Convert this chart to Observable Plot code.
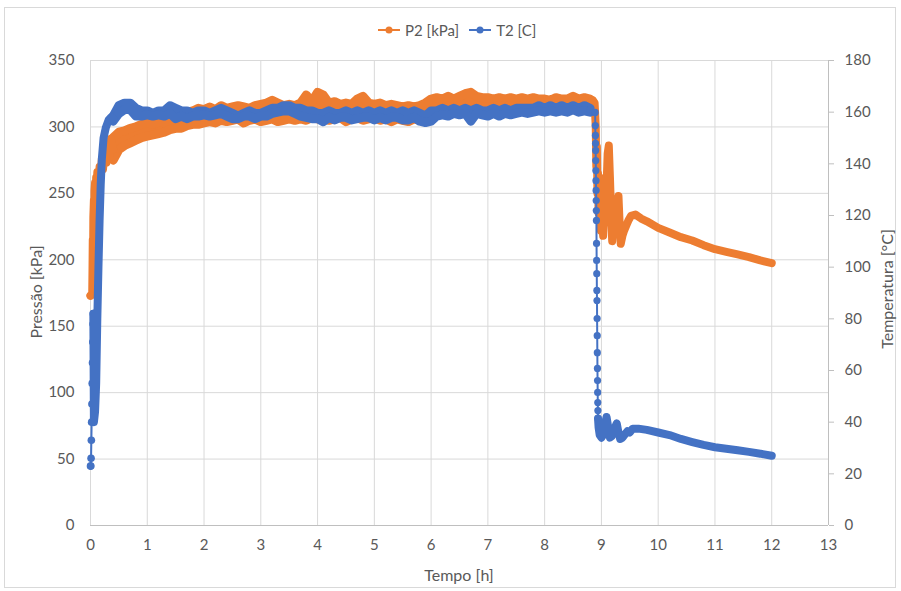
<!DOCTYPE html>
<html><head><meta charset="utf-8">
<script src="https://cdn.jsdelivr.net/npm/d3@7"></script>
<script src="https://cdn.jsdelivr.net/npm/@observablehq/plot@0.6"></script>
<style>
body{margin:0;background:#fff;font-family:Lato,"Open Sans",sans-serif;}
#wrap{position:relative;width:901px;height:591px;overflow:hidden;background:#fff;}
#frame{position:absolute;left:4px;top:7px;width:892px;height:581px;border:1px solid #d9d9d9;box-sizing:border-box;}
#legend{position:absolute;top:21px;left:378px;height:18px;display:flex;align-items:center;font-size:15px;color:#595959;}
.item{display:flex;align-items:center;margin-right:10px;}
.item svg{margin-right:5px;}
#chart{position:absolute;left:0;top:45px;}
.title{position:absolute;font-size:16px;color:#595959;white-space:nowrap;transform:translate(-50%,-50%);}
.rot{transform:translate(-50%,-50%) rotate(-90deg);}
</style></head>
<body>
<div id="wrap">
  <div id="frame"></div>
  <div id="legend">
    <div class="item"><svg width="22" height="10"><line x1="0" y1="5" x2="22" y2="5" stroke="#ED7D31" stroke-width="2"/><circle cx="11" cy="5" r="3.5" fill="#ED7D31"/></svg><span>P2 [kPa]</span></div>
    <div class="item"><svg width="22" height="10"><line x1="0" y1="5" x2="22" y2="5" stroke="#4472C4" stroke-width="2"/><circle cx="11" cy="5" r="3.5" fill="#4472C4"/></svg><span>T2 [C]</span></div>
  </div>
  <div id="chart"></div>
  <div class="title rot" style="left:35px;top:292px;">Pressão [kPa]</div>
  <div class="title rot" style="left:886px;top:289px;">Temperatura [°C]</div>
  <div class="title" style="left:459px;top:574px;">Tempo [h]</div>
</div>
<script>
// ---- axis ticks ----
const hourTicks = [0,1,2,3,4,5,6,7,8,9,10,11,12,13];
const pressureTicks = [0,50,100,150,200,250,300,350];
const tempTicks = [0,20,40,60,80,100,120,140,160,180];

// ---- noisy plateau (upper / lower envelope of the scatter) ----
const bandTime = [0.4,0.5,0.6,0.7,0.8,0.9,1.0,1.1,1.2,1.3,1.4,1.5,1.6,1.7,1.8,1.9,2.0,2.1,2.2,2.3,2.4,2.5,2.6,2.7,2.8,2.9,3.0,3.1,3.2,3.3,3.4,3.5,3.6,3.7,3.8,3.9,4.0,4.1,4.2,4.3,4.4,4.5,4.6,4.7,4.8,4.9,5.0,5.1,5.2,5.3,5.4,5.5,5.6,5.7,5.8,5.9,6.0,6.1,6.2,6.3,6.4,6.5,6.6,6.7,6.8,6.9,7.0,7.1,7.2,7.3,7.4,7.5,7.6,7.7,7.8,7.9,8.0,8.1,8.2,8.3,8.4,8.5,8.6,8.7,8.8];
const p2High = [292,296,297,299,300,302,303,302,304,303,305,306,307,311,312,314,313,315,313,316,314,315,316,315,314,316,317,318,320,318,316,317,316,318,324,319,326,324,318,319,317,318,317,321,323,318,317,318,316,317,316,315,316,315,316,318,321,322,321,323,321,323,325,326,323,322,322,321,322,321,322,321,322,321,322,321,321,320,322,321,321,323,321,322,321];
const p2Low = [275,283,286,288,290,292,293,294,295,296,298,299,299,301,302,302,303,304,303,305,304,305,306,303,305,306,304,305,306,304,305,306,305,306,305,307,306,306,305,306,307,304,306,307,305,306,307,305,306,304,306,305,304,306,305,308,311,312,313,312,313,314,313,314,314,315,315,315,316,315,316,316,315,316,316,317,316,315,316,315,316,316,315,316,316];
const t2High = [158.5,162.5,163.5,163.5,161.5,160.5,160.5,159.5,160.5,160.5,162.5,161.5,160.5,160.5,159.5,160.5,160.5,159.5,160.5,161.5,160.5,159.5,158.5,159.5,160.5,159.5,159.5,160.5,161.5,161.5,162.5,162.5,161.5,161.5,160.5,160.5,159.5,159.5,160.5,159.5,159.5,160.5,159.5,160.5,159.5,160.5,159.5,160.5,159.5,160.5,159.5,160.5,159.5,160.5,159.5,158.5,160.5,160.5,161.5,160.5,161.5,160.5,161.5,160.5,161.5,160.5,160.5,161.5,160.5,161.5,160.5,161.5,161.5,161.5,161.5,162.5,161.5,162.5,161.5,162.5,161.5,162.5,161.5,162.5,161.5];
const t2Low = [156.5,159.5,161,161,158.5,158.5,159,158.5,159,158.5,159.5,157.5,158.5,157.5,158.5,158.5,159,158.5,159,159.5,158.5,157.5,157.5,158.5,158.5,157.5,158.5,158.5,159.5,160,160.5,160.5,159.5,158.5,158,157.5,157.5,156.3,158,157,158,158,157,157.5,158,158,157,158,157,158,158,157,157,158,156.5,156,156.5,158.5,159,158.5,159.5,159,159.5,156.5,159.5,159,158.5,159.5,158.5,159.5,159,159.5,160,159.5,160,160.5,160,160.5,160,160.5,160,161,160,160.5,160];

// ---- P2 start ramp ----
const p2RampTime = [0,0.03,0.035,0.04,0.045,0.05,0.06,0.065,0.07,0.08,0.09,0.1,0.11,0.12,0.14,0.16,0.18,0.2,0.22,0.25,0.28,0.3,0.33,0.36,0.4];
const p2RampVal = [173,174,192,215,196,232,245,226,252,258,242,262,255,266,258,270,263,276,268,282,273,288,277,291,283];
// ---- P2 release and cooling ----
const p2TailTime = [8.8,8.85,8.88,8.9,8.91,8.92,8.93,8.94,8.95,8.97,8.99,9.01,9.03,9.05,9.07,9.09,9.11,9.13,9.15,9.17,9.19,9.21,9.24,9.27,9.3,9.32,9.34,9.37,9.4,9.44,9.48,9.52,9.6,9.7,9.8,10.0,10.2,10.4,10.6,10.8,11.0,11.2,11.4,11.6,11.8,12.0];
const p2TailVal = [318,320,318,300,270,285,250,265,235,262,222,250,218,240,228,255,280,286,262,235,214,228,220,240,248,228,212,218,222,226,230,233,234,231,229,224,220.5,217,214.5,211,208,206,204,202,199.5,197.5];

// ---- T2 start (separate points) and ramp ----
const t2StartTime = [0,0.005,0.01,0.015,0.02,0.025,0.03,0.035,0.04,0.045,0.05];
const t2StartVal = [23,23,26,33,40,47,55,63,71,78,82];
const t2RampTime = [0.05,0.06,0.08,0.1,0.12,0.14,0.16,0.18,0.2,0.23,0.27,0.32,0.36,0.4];
const t2RampVal = [82,40,44,55,80,100,118,132,142,150,154,157,158,157.5];
// ---- T2 fast drop (separate points) ----
const t2DropTime = [8.8,8.89,8.892,8.894,8.896,8.898,8.9,8.902,8.904,8.906,8.908,8.91,8.912,8.914,8.916,8.918,8.92,8.922,8.924,8.926,8.928,8.93,8.932,8.934,8.936,8.938,8.94];
const t2DropVal = [161,159.9,154.8,151,147.9,145.2,141.3,137.4,133.5,129.7,125.8,121.9,118.1,109.2,102.6,97.5,91,87.1,80.1,73.5,66.9,60.8,56.1,51.5,47.6,44.5,41.4];
// ---- T2 cooling ----
const t2TailTime = [8.94,8.95,8.97,9.0,9.03,9.06,9.09,9.12,9.15,9.18,9.22,9.27,9.3,9.33,9.37,9.42,9.46,9.5,9.55,9.65,9.8,10.0,10.2,10.4,10.6,10.8,11.0,11.2,11.4,11.6,11.8,12.0];
const t2TailVal = [41.4,38,35,34,35,39,42,38,34,34.5,37,39.5,36,33.5,34,35.5,36.5,36,37.5,37.5,37,36,35,33.5,32.3,31.2,30.3,29.7,29.1,28.5,27.8,27];

// ---- build tables ----
const k = 350 / 180; // right axis (°C) onto the left axis (kPa) range
const ORANGE = "#ED7D31", BLUE = "#4472C4";
const band = bandTime.map((t, i) => ({t, pHi: p2High[i], pLo: p2Low[i], tHi: t2High[i] * k, tLo: t2Low[i] * k}));
const pairs = (ts, vs, f = 1) => ts.map((t, i) => ({t, v: vs[i] * f}));
const p2Ramp = pairs(p2RampTime, p2RampVal);
const p2Tail = pairs(p2TailTime, p2TailVal);
const t2Start = pairs(t2StartTime, t2StartVal, k);
const t2Ramp = pairs(t2RampTime, t2RampVal, k);
const t2Drop = pairs(t2DropTime, t2DropVal, k);
const t2Tail = pairs(t2TailTime, t2TailVal, k);

const thick = (data, y, color, w = 8) => Plot.line(data, {x: "t", y, stroke: color, strokeWidth: w, strokeLinejoin: "round", strokeLinecap: "round"});

const chart = Plot.plot({
  width: 901, height: 546,
  marginLeft: 90, marginRight: 73, marginTop: 15, marginBottom: 66,
  x: {domain: [0, 13], label: null},
  y: {domain: [0, 350], label: null},
  style: {fontFamily: "Lato, 'Open Sans', sans-serif", fontSize: "15px", color: "#595959", background: "transparent"},
  marks: [
    Plot.ruleX(hourTicks, {stroke: "#d9d9d9"}),
    Plot.ruleY(pressureTicks, {stroke: "#d9d9d9"}),
    Plot.ruleY([0], {stroke: "#bfbfbf"}),
    Plot.ruleX([13], {stroke: "#bfbfbf"}),
    Plot.axisX(hourTicks, {tickSize: 0, tickPadding: 14, fill: "#595959", label: null}),
    Plot.axisY(pressureTicks, {anchor: "left", tickSize: 0, tickPadding: 16, fill: "#595959", label: null}),
    Plot.axisY(tempTicks.map(d => d * k), {anchor: "right", tickSize: 5, tickPadding: 11, stroke: "#bfbfbf", fill: "#595959", label: null, tickFormat: d => String(Math.round(d / k))}),
    // P2
    Plot.areaY(band, {x: "t", y1: "pLo", y2: "pHi", fill: ORANGE}),
    thick(band, "pHi", ORANGE, 9),
    thick(band, "pLo", ORANGE, 9),
    thick(p2Ramp, "v", ORANGE),
    thick(p2Tail, "v", ORANGE),
    Plot.dot(p2Ramp.slice(0, 1), {x: "t", y: "v", r: 4, fill: ORANGE}),
    // T2
    Plot.areaY(band, {x: "t", y1: "tLo", y2: "tHi", fill: BLUE}),
    thick(band, "tHi", BLUE, 9),
    thick(band, "tLo", BLUE, 9),
    Plot.line(t2Start, {x: "t", y: "v", stroke: BLUE, strokeWidth: 2}),
    Plot.dot(t2Start, {x: "t", y: "v", r: 3.8, fill: BLUE}),
    thick(t2Ramp, "v", BLUE),
    Plot.line(t2Drop, {x: "t", y: "v", stroke: BLUE, strokeWidth: 2}),
    Plot.dot(t2Drop, {x: "t", y: "v", r: 3.6, fill: BLUE}),
    thick(t2Tail, "v", BLUE)
  ]
});
document.getElementById("chart").appendChild(chart);
</script>
</body></html>
